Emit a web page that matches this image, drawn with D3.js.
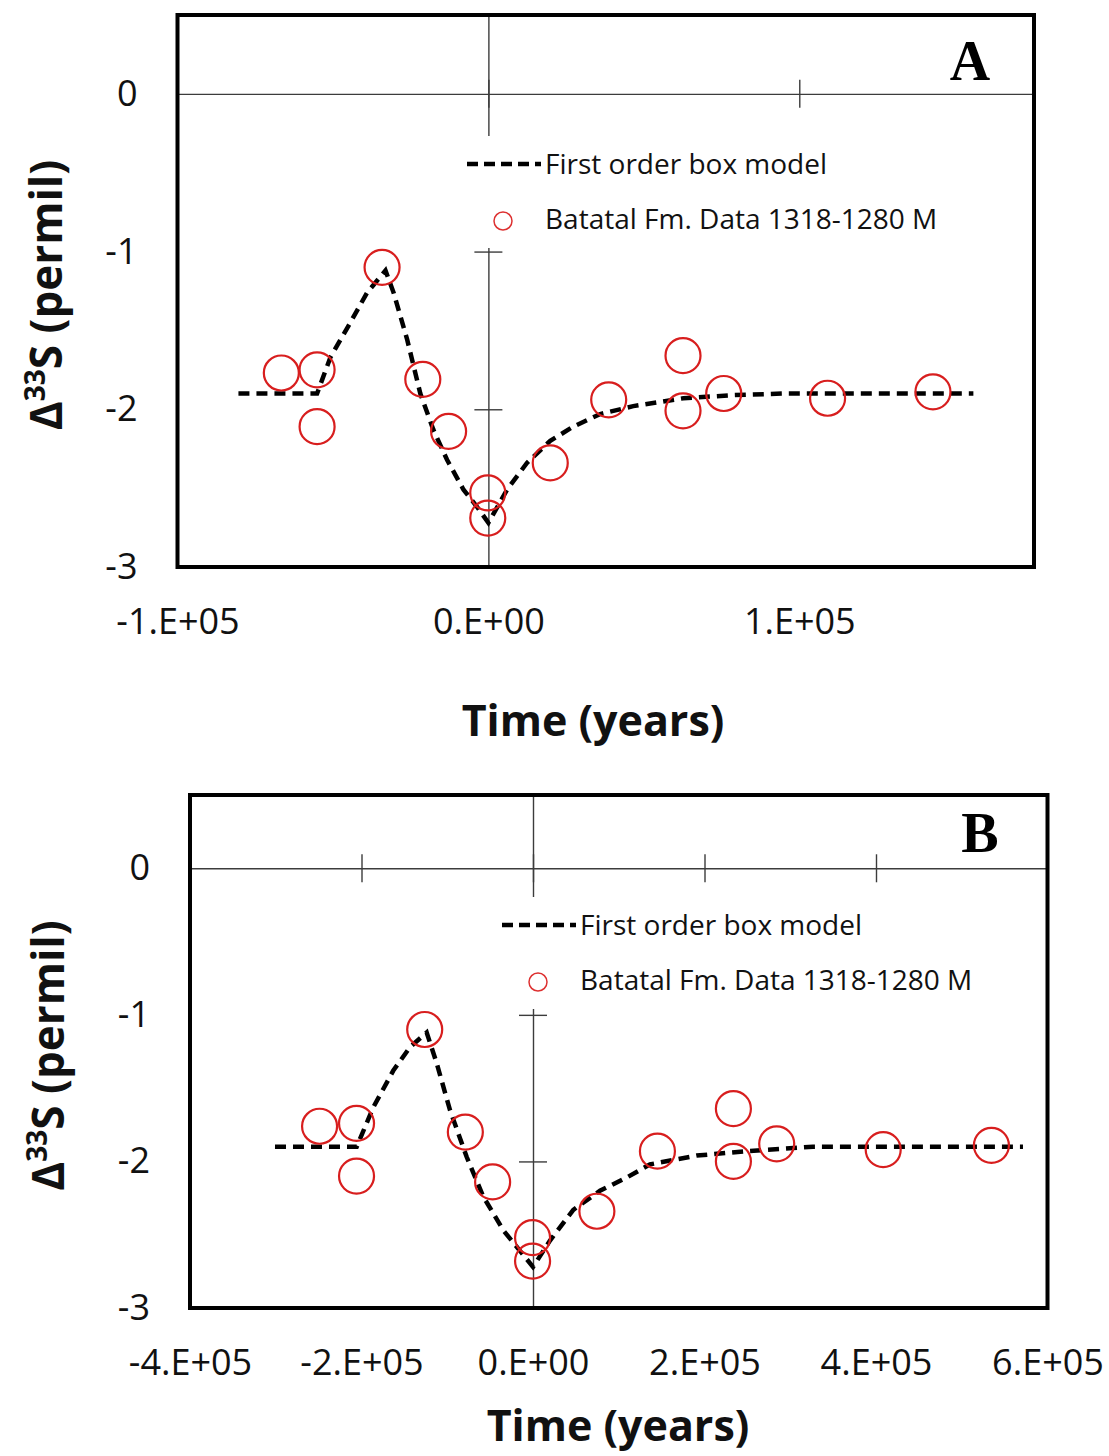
<!DOCTYPE html>
<html>
<head>
<meta charset="utf-8">
<script src="https://cdn.jsdelivr.net/npm/d3@7"></script>
<style>
  body { margin: 0; background: #fff; }
</style>
</head>
<body>
<div id="chart"></div>
<script>
// ---- panel A data ----
const dataTimeA = [-66600, -55100, -55100, -34200, -21100, -12800, -200, -200, 19900, 38700, 62600, 62600, 75700, 109100, 143000];
const dataD33A  = [-1.77, -1.75, -2.11, -1.10, -1.81, -2.14, -2.53, -2.69, -2.34, -1.94, -1.66, -2.01, -1.90, -1.93, -1.89];
const modelTimeA = [-80400, -55100, -50800, -44400, -39000, -33100, -30500, -26100, -21900, -17700, -13300, -8000, -3600, 0, 6000, 12400, 19900, 27300, 36000, 46600, 62700, 78800, 94900, 156000];
const modelD33A  = [-1.90, -1.90, -1.67, -1.45, -1.26, -1.12, -1.26, -1.56, -1.90, -2.13, -2.32, -2.51, -2.62, -2.72, -2.51, -2.34, -2.20, -2.11, -2.03, -1.98, -1.93, -1.91, -1.90, -1.90];
const xTicksA = [-100000, 0, 100000];
const xTickLabelsA = ["-1.E+05", "0.E+00", "1.E+05"];

// ---- panel B data ----
const dataTimeB = [-248900, -205800, -205800, -126300, -78900, -47100, -500, -500, 74500, 145100, 233700, 233700, 284200, 408400, 534600];
const dataD33B  = [-1.76, -1.74, -2.10, -1.10, -1.80, -2.14, -2.52, -2.68, -2.34, -1.93, -1.64, -2.00, -1.88, -1.92, -1.89];
const modelTimeB = [-300900, -205600, -186200, -162900, -143400, -124000, -112300, -96800, -77300, -58000, -34600, -15200, 0, 19800, 47000, 78100, 109300, 136400, 190900, 249200, 326500, 571400];
const modelD33B  = [-1.90, -1.90, -1.63, -1.38, -1.22, -1.12, -1.33, -1.65, -1.97, -2.24, -2.47, -2.61, -2.72, -2.54, -2.33, -2.20, -2.11, -2.02, -1.96, -1.93, -1.90, -1.90];
const xTicksB = [-400000, -200000, 0, 200000, 400000, 600000];
const xTickLabelsB = ["-4.E+05", "-2.E+05", "0.E+00", "2.E+05", "4.E+05", "6.E+05"];

const yTicks = [0, -1, -2, -3];
const yTickLabels = ["0", "-1", "-2", "-3"];
const yInnerTicks = [-1, -2];
const legendLabels = ["First order box model", "Batatal Fm. Data 1318-1280 M"];

const SANS = "'Open Sans', sans-serif";
const W = 1109, H = 1456;
const svg = d3.select("#chart").append("svg")
  .attr("width", W).attr("height", H)
  .style("font-family", SANS);

function drawPanel(o) {
  const g = svg.append("g");
  const x = d3.scaleLinear().domain(o.xDomain).range([o.left, o.right]);
  const y = d3.scaleLinear().domain([-3, 0.5]).range([o.bottom, o.top]);

  // zero lines, ticks cross the line
  const xa = g.append("g").attr("transform", `translate(0,${y(0)})`)
    .call(d3.axisBottom(x).tickValues(o.xTicks).tickSizeInner(14).tickSizeOuter(0).tickFormat(""));
  xa.select(".domain").attr("stroke", "#3c3c3c").attr("stroke-width", 1.4);
  xa.selectAll(".tick line").attr("y1", -14).attr("stroke", "#3c3c3c").attr("stroke-width", 1.4);

  const ya = g.append("g").attr("transform", `translate(${x(0)},0)`)
    .call(d3.axisLeft(y).tickValues(yInnerTicks).tickSizeInner(14).tickSizeOuter(0).tickFormat(""));
  ya.select(".domain").attr("stroke", "#3c3c3c").attr("stroke-width", 1.4);
  ya.selectAll(".tick line").attr("x1", 14).attr("stroke", "#3c3c3c").attr("stroke-width", 1.4);

  // tick labels
  const xl = g.append("g").attr("transform", `translate(0,${o.bottom})`)
    .call(d3.axisBottom(x).tickValues(o.xTicks).tickSize(0).tickPadding(41)
      .tickFormat((d, i) => o.xLabels[i]));
  xl.select(".domain").remove();
  xl.selectAll("text").style("font-size", "36px").style("font-family", SANS).attr("fill", "#111");

  const yl = g.append("g").attr("transform", `translate(${o.left},0)`)
    .call(d3.axisLeft(y).tickValues(yTicks).tickSize(0).tickPadding(40)
      .tickFormat((d, i) => yTickLabels[i]));
  yl.select(".domain").remove();
  yl.selectAll("text").style("font-size", "36px").style("font-family", SANS).attr("fill", "#111");

  // legend, white box hides the axis behind it
  const lg = g.append("g").attr("transform", `translate(${o.legX},${o.legY})`);
  lg.append("rect").attr("x", -8).attr("y", -28).attr("width", 500).attr("height", 112).attr("fill", "#fff");
  lg.append("line").attr("x1", 0).attr("x2", 74).attr("y1", 0).attr("y2", 0)
    .attr("stroke", "#000").attr("stroke-width", 4.5).attr("stroke-dasharray", "11,6");
  lg.append("text").attr("x", 78).attr("y", 10).style("font-size", "28px").attr("fill", "#111").text(legendLabels[0]);
  lg.append("circle").attr("cx", 36).attr("cy", 57).attr("r", 9)
    .attr("fill", "none").attr("stroke", "#dd3030").attr("stroke-width", 1.5);
  lg.append("text").attr("x", 78).attr("y", 65).style("font-size", "28px").attr("fill", "#111").text(legendLabels[1]);

  // model curve
  const line = d3.line().x(d => x(d[0])).y(d => y(d[1]));
  g.append("path").datum(d3.zip(o.modelT, o.modelV))
    .attr("d", line).attr("fill", "none").attr("stroke", "#000")
    .attr("stroke-width", 4.5).attr("stroke-dasharray", "11,7");

  // data circles
  g.selectAll("circle.pt").data(d3.zip(o.dataT, o.dataV)).join("circle")
    .attr("class", "pt")
    .attr("cx", d => x(d[0])).attr("cy", d => y(d[1])).attr("r", 17.5)
    .attr("fill", "none").attr("stroke", "#d81e1e").attr("stroke-width", 2.2);

  // frame
  g.append("rect").attr("x", o.left).attr("y", o.top)
    .attr("width", o.right - o.left).attr("height", o.bottom - o.top)
    .attr("fill", "none").attr("stroke", "#000").attr("stroke-width", 4);

  // panel letter
  g.append("text").attr("x", o.letterX).attr("y", o.letterY)
    .attr("text-anchor", "middle").attr("font-weight", "bold")
    .style("font-size", "56px").style("font-family", "'Liberation Serif', 'Times New Roman', serif")
    .text(o.letter);

  // axis titles
  g.append("text").attr("x", o.titleX).attr("y", o.titleY)
    .attr("text-anchor", "middle").attr("font-weight", "bold")
    .style("font-size", "43px").attr("fill", "#111").text("Time (years)");

  const yt = g.append("text")
    .attr("transform", `translate(${o.yTitleX},${(o.top + o.bottom) / 2 + 4}) rotate(-90)`)
    .attr("text-anchor", "middle").attr("font-weight", "bold")
    .style("font-size", "44px").attr("fill", "#111");
  yt.append("tspan").text("\u0394");
  yt.append("tspan").style("font-size", "28px").attr("dy", -17).text("33");
  yt.append("tspan").attr("dy", 17).text("S (permil)");
}

drawPanel({
  left: 177.5, right: 1034, top: 15, bottom: 567,
  xDomain: [-100000, 175500], xTicks: xTicksA, xLabels: xTickLabelsA,
  dataT: dataTimeA, dataV: dataD33A, modelT: modelTimeA, modelV: modelD33A,
  legX: 467, legY: 164, letter: "A", letterX: 970, letterY: 80,
  titleX: 593, titleY: 736, yTitleX: 62
});

drawPanel({
  left: 190, right: 1047.5, top: 795, bottom: 1308,
  xDomain: [-400000, 600000], xTicks: xTicksB, xLabels: xTickLabelsB,
  dataT: dataTimeB, dataV: dataD33B, modelT: modelTimeB, modelV: modelD33B,
  legX: 502, legY: 925, letter: "B", letterX: 980, letterY: 852,
  titleX: 618, titleY: 1441, yTitleX: 64
});
</script>
</body>
</html>
